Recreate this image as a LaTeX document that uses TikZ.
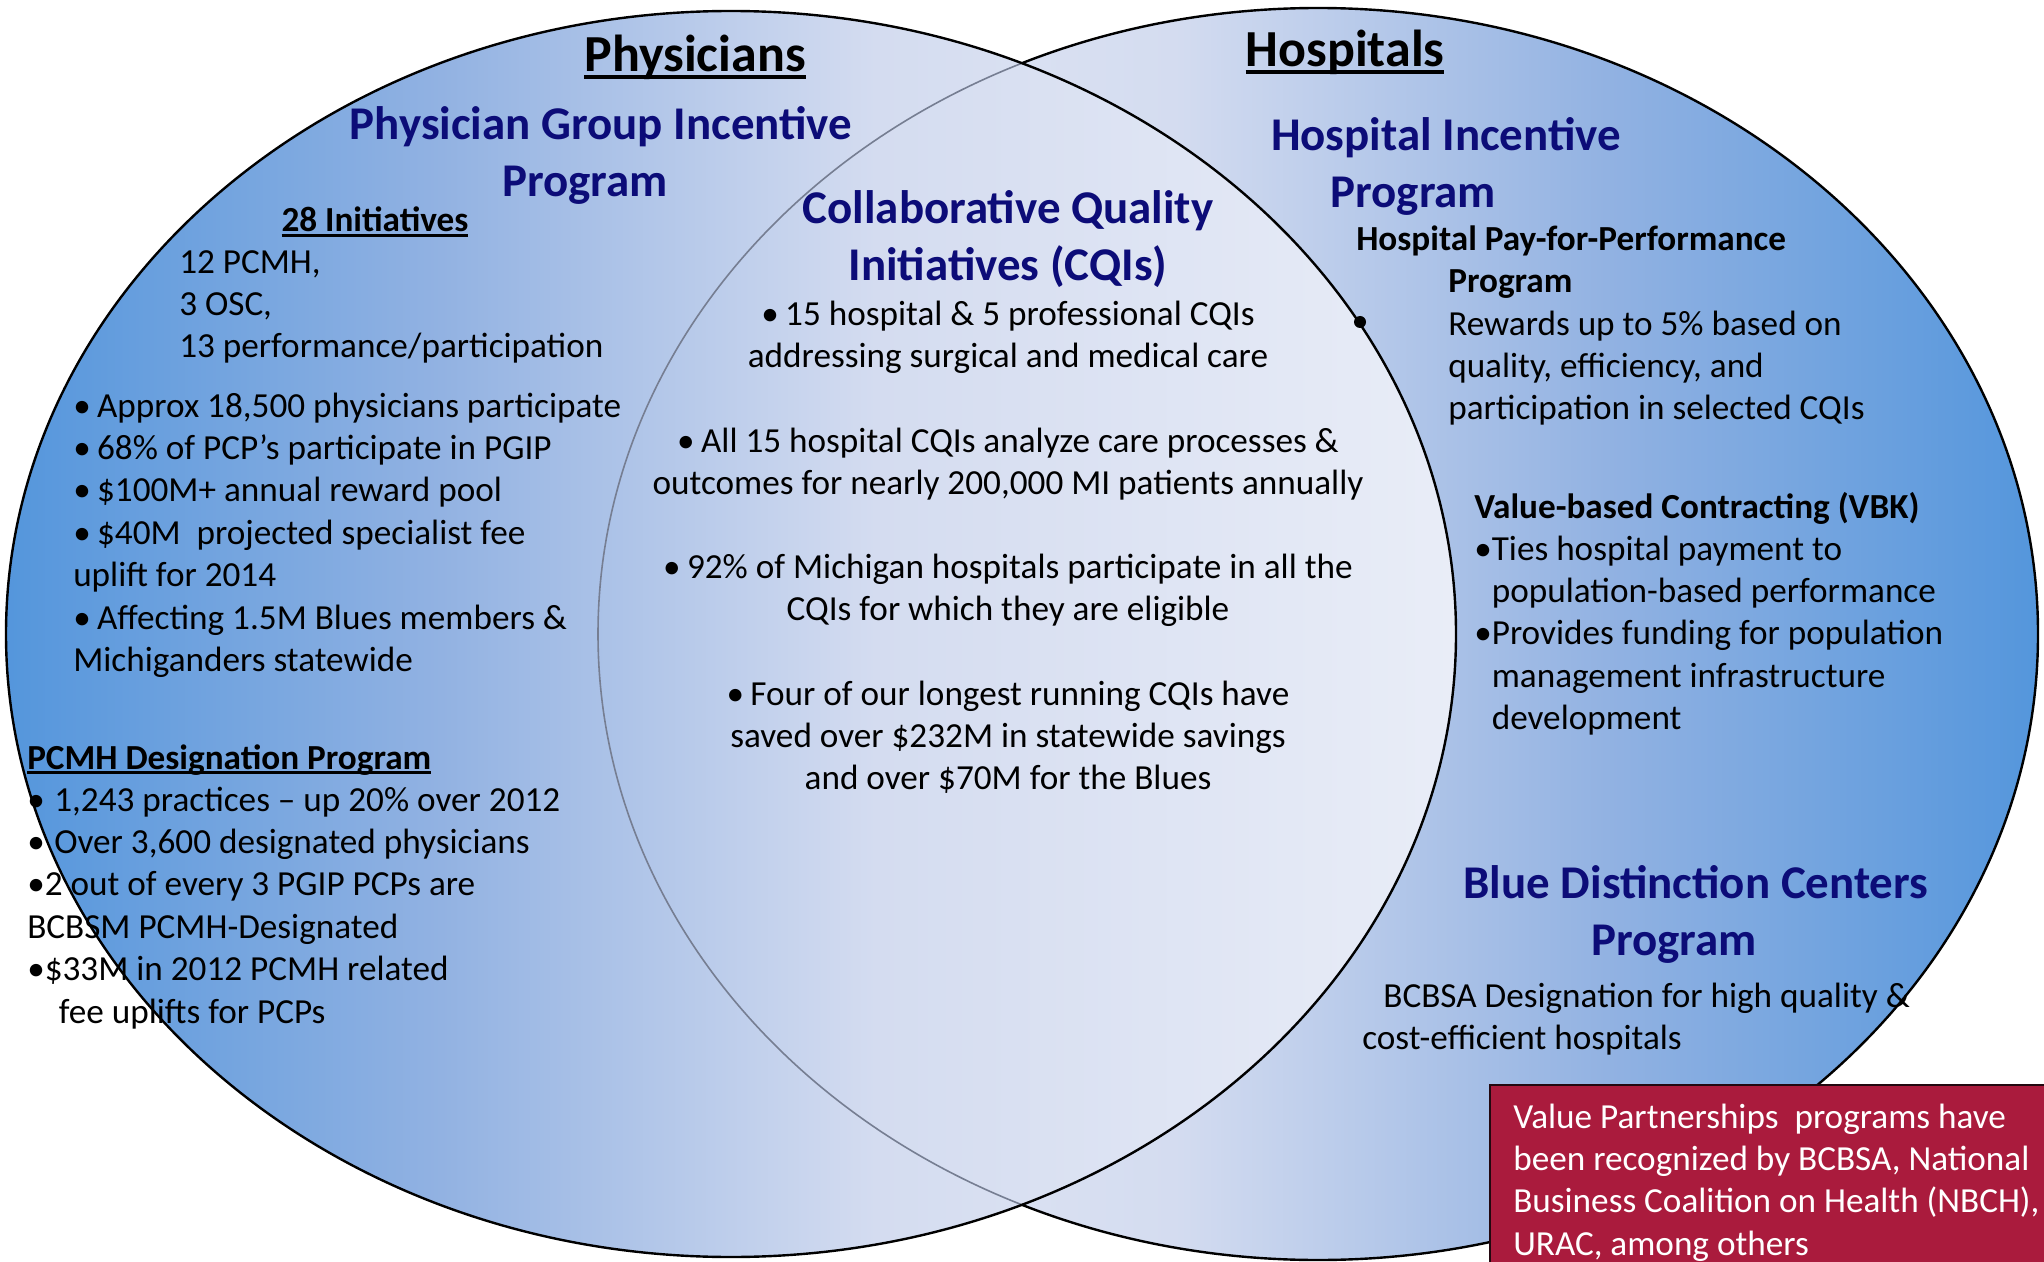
\documentclass[tikz,border=0pt]{standalone}
\usepackage{fontspec}
\setmainfont{Carlito}
\usepackage{tikz}

\definecolor{vpblue}{RGB}{84,150,220}
\definecolor{vpmid}{RGB}{146,178,226}
\definecolor{vppale}{RGB}{212,220,240}
\definecolor{vpwhite}{RGB}{233,237,247}
\definecolor{vpnavy}{RGB}{12,12,120}
\definecolor{vpred}{RGB}{170,27,61}
\definecolor{vpedge}{RGB}{118,126,146}

% blue at the outer side, pale towards the overlap
\pgfdeclarehorizontalshading{physfade}{100bp}{color(0bp)=(vpblue); color(25bp)=(vpblue); color(40bp)=(vpmid); color(55bp)=(vppale); color(75bp)=(vpwhite); color(100bp)=(vpwhite)}
\pgfdeclarehorizontalshading{hospfade}{100bp}{color(0bp)=(vpwhite); color(25bp)=(vpwhite); color(45bp)=(vppale); color(60bp)=(vpmid); color(75bp)=(vpblue); color(100bp)=(vpblue)}

% heavier underline than \underline gives
\newsavebox{\headbox}
\newcommand{\ulhead}[1]{\sbox{\headbox}{#1}\rlap{\rule[-0.13em]{\wd\headbox}{0.075em}}\usebox{\headbox}}
% bullet with a short gap
\newcommand{\vpbul}{•\hspace{0.18em}}

\begin{document}
\begin{tikzpicture}[x=0.75pt,y=0.75pt,yscale=-1,xscale=1,
  body/.style={anchor=base west,inner sep=0pt,align=left,font=\fontsize{26.4}{31.8}\selectfont},
  sub/.style={body,font=\fontsize{26.4}{31.8}\selectfont\bfseries},
  head/.style={anchor=base,inner sep=0pt,align=center,text=vpnavy,font=\fontsize{35.2}{42.4}\selectfont\bfseries},
  title/.style={anchor=base,inner sep=0pt,font=\fontsize{39}{46}\selectfont\bfseries}]
\useasboundingbox (0,0) rectangle (2044,1262);
\clip (0,0) rectangle (2044,1262);

%Shape: Ellipse (hospitals)
\shadedraw [shading=hospfade,draw=black,line width=1.8pt] (1318,634) ellipse [x radius=720,y radius=626];
%Shape: Ellipse (physicians)
\shade [shading=physfade] (731,634) ellipse [x radius=725,y radius=623];
\begin{scope}
  \clip (731,634) ellipse [x radius=725,y radius=623];
  \draw [vpedge,line width=1.2pt] (1318,634) ellipse [x radius=720,y radius=626];
\end{scope}
\draw [black,line width=1.8pt] (731,634) ellipse [x radius=725,y radius=623];
\fill (1360,322) circle [radius=6];

%Shape: Rectangle (note)
\draw [fill=vpred,draw={rgb,255:red,35;green,8;blue,16},line width=2.2pt] (1490,1085) rectangle (2070,1290);

% Physicians  (multi-line nodes sit on the baseline of their last line)
\node [title] (phys) at (695,72) {\ulhead{Physicians}};
\node [head] (pgip) at (601,196.5) {Physician Group Incentive\\\hspace*{-24pt}Program};
\node [sub,anchor=base] (pgipcount) at (375,232) {\ulhead{28 Initiatives}};
\node [body] (pgipsplit) at (179,357.8) {12 PCMH,\\3 OSC,\\13 performance/participation};
\node [body] (pgipfacts) at (73,671.4) {\vpbul Approx 18,500 physicians participate\\\vpbul 68\% of PCP’s participate in PGIP\\\vpbul \$100M+ annual reward pool\\\vpbul \$40M\ \ projected specialist fee\\uplift for 2014\\\vpbul Affecting 1.5M Blues members \&\\Michiganders statewide};
\node [sub] (pcmh) at (27,769) {\ulhead{PCMH Designation Program}};
\node [body] (pcmhfacts) at (27,1023) {•\hspace*{0.27em}1,243 practices – up 20\% over 2012\\•\hspace*{0.27em}Over 3,600 designated physicians\\•2 out of every 3 PGIP PCPs are\\BCBSM PCMH-Designated\\•\$33M in 2012 PCMH related\\\hspace*{0.9em}fee uplifts for PCPs};

% CQIs
\node [head] (cqi) at (1008,280.5) {Collaborative Quality\\Initiatives (CQIs)};
\node [body,anchor=base,align=center] (cqione) at (1008,367.4) {\vpbul 15 hospital \& 5 professional CQIs\\addressing surgical and medical care};
\node [body,anchor=base,align=center] (cqitwo) at (1008,494.4) {\vpbul All 15 hospital CQIs analyze care processes \&\\outcomes for nearly 200,000 MI patients annually};
\node [body,anchor=base,align=center] (cqithree) at (1008,620.4) {\vpbul 92\% of Michigan hospitals participate in all the\\CQIs for which they are eligible};
\node [body,anchor=base,align=center] (cqifour) at (1008,789.8) {\vpbul Four of our longest running CQIs have\\saved over \$232M in statewide savings\\and over \$70M for the Blues};

% Hospitals
\node [title] (hosp) at (1345,67) {\ulhead{Hospitals}};
\node [head] (hip) at (1446,207.5) {Hospital Incentive\\\hspace*{-49pt}Program};
\node [sub] (pfp) at (1356,251) {Hospital Pay-for-Performance};
\node [sub] (pfpprog) at (1448,293) {Program};
\node [body] (pfptext) at (1448,419.8) {Rewards up to 5\% based on\\quality, efficiency, and\\participation in selected CQIs};
\node [sub] (vbk) at (1474,518) {Value-based Contracting (VBK)};
\node [body] (vbktext) at (1474,729.6) {•Ties hospital payment to\\\phantom{•}population-based performance\\•Provides funding for population\\\phantom{•}management infrastructure\\\phantom{•}development};
\node [head] (bdc) at (1696,955.5) {Blue Distinction Centers\\\hspace*{-33pt}Program};
\node [body] (bdctext) at (1362,1049.4) {\hspace*{15.8pt}BCBSA Designation for high quality \&\\cost-efficient hospitals};
\node [body,text=white] (vpnote) at (1513,1255.2) {Value Partnerships\ \ programs have\\been recognized by BCBSA, National\\Business Coalition on Health (NBCH),\\URAC, among others};
\end{tikzpicture}
\end{document}
